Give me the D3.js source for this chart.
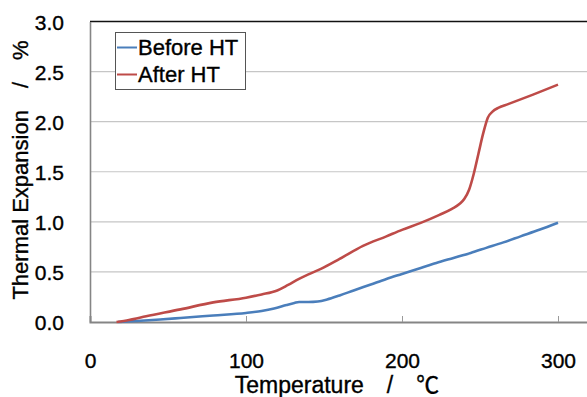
<!DOCTYPE html>
<html>
<head>
<meta charset="utf-8">
<script src="https://cdn.jsdelivr.net/npm/d3@7"></script>
<style>
  body { margin: 0; background: #fff; }
  svg text { font-family: "Liberation Sans", Arial, "Noto Sans CJK JP", sans-serif; fill: #000; stroke: #000; stroke-width: 0.35px; }
</style>
</head>
<body>
<div id="chart"></div>
<script>
// temperature (deg C) and expansion (%)
const beforeTemp = [18, 30, 45, 58, 79, 100, 110, 118, 126, 131, 134, 140, 146, 152, 160, 169, 180, 190, 200, 212, 222, 233, 244, 254, 265, 276, 288, 300];
const beforeVal  = [0.0, 0.01, 0.025, 0.04, 0.065, 0.09, 0.11, 0.135, 0.17, 0.19, 0.2, 0.2, 0.205, 0.225, 0.265, 0.315, 0.375, 0.43, 0.48, 0.54, 0.59, 0.64, 0.69, 0.74, 0.795, 0.855, 0.92, 0.99];

const afterTemp = [17, 25, 36, 58, 79, 100, 110, 120, 127, 134, 140, 148, 160, 175, 190, 200, 212, 224, 232, 237, 240, 243, 246, 249, 252, 255, 258, 262, 268, 284, 300];
const afterVal  = [0.0, 0.02, 0.057, 0.126, 0.196, 0.243, 0.275, 0.315, 0.37, 0.43, 0.475, 0.53, 0.63, 0.76, 0.855, 0.92, 0.99, 1.07, 1.13, 1.18, 1.23, 1.32, 1.48, 1.68, 1.88, 2.04, 2.1, 2.14, 2.175, 2.27, 2.37];

const xTicks = [0, 100, 200, 300];
const yTicks = [0, 0.5, 1.0, 1.5, 2.0, 2.5, 3.0];
const seriesNames = ["Before HT", "After HT"];
const seriesColors = ["#4a7ebb", "#be4b48"];

const width = 587, height = 397;
const plotLeft = 90, plotTop = 21.5, plotBottom = 322;

const svg = d3.select("#chart").append("svg")
  .attr("width", width)
  .attr("height", height);

const x = d3.scaleLinear().domain([0, 350]).range([plotLeft, plotLeft + 546]);
const y = d3.scaleLinear().domain([0, 3]).range([plotBottom, plotTop]);

// gridlines
svg.append("g")
  .selectAll("line")
  .data(yTicks.filter(d => d > 0 && d < 3))
  .enter()
  .append("line")
  .attr("x1", plotLeft).attr("x2", width)
  .attr("y1", d => y(d)).attr("y2", d => y(d))
  .attr("stroke", "#c6c6c6")
  .attr("stroke-width", 1.2);

// top border
svg.append("line")
  .attr("x1", plotLeft).attr("x2", width)
  .attr("y1", y(3)).attr("y2", y(3))
  .attr("stroke", "#111")
  .attr("stroke-width", 1.6);

// y axis
const yAxis = svg.append("g")
  .attr("transform", `translate(${plotLeft},0)`)
  .call(d3.axisLeft(y).tickValues(yTicks).tickFormat(d3.format(".1f")).tickSize(0).tickPadding(26));
yAxis.select(".domain").attr("stroke", "#858585").attr("stroke-width", 1.6);
yAxis.selectAll("text")
  .attr("font-size", 21)
  .attr("dy", "0.36em")
  .style("font-family", "'Liberation Sans', Arial, sans-serif");

// x axis
const xAxis = svg.append("g")
  .attr("transform", `translate(0,${plotBottom})`)
  .call(d3.axisBottom(x).tickValues(xTicks).tickSize(-6).tickPadding(31));
xAxis.select(".domain").attr("stroke", "#858585").attr("stroke-width", 2);
xAxis.selectAll(".tick line").attr("stroke", "#9a9a9a").attr("stroke-width", 1);
xAxis.selectAll(".tick").filter(d => d === 0).select("line").remove();
xAxis.selectAll("text")
  .attr("font-size", 21)
  .style("font-family", "'Liberation Sans', Arial, sans-serif");

// lines
const line = d3.line()
  .x(d => x(d[0]))
  .y(d => y(d[1]))
  .curve(d3.curveMonotoneX);

const series = [
  d3.zip(beforeTemp, beforeVal),
  d3.zip(afterTemp, afterVal)
];

svg.selectAll("path.series")
  .data(series)
  .enter()
  .append("path")
  .attr("class", "series")
  .attr("d", line)
  .attr("fill", "none")
  .attr("stroke", (d, i) => seriesColors[i])
  .attr("stroke-width", 2.6)
  .attr("stroke-linejoin", "round");

// axis titles
svg.append("text")
  .attr("x", 337)
  .attr("y", 393)
  .attr("text-anchor", "middle")
  .attr("font-size", 23)
  .text("Temperature\u3000/\u3000\u2103");

svg.append("text")
  .attr("transform", "translate(28,170) rotate(-90)")
  .attr("text-anchor", "middle")
  .attr("font-size", 22)
  .text("Thermal Expansion\u3000/\u3000%");

// legend
const legend = svg.append("g");
legend.append("rect")
  .attr("x", 115.5).attr("y", 32.5)
  .attr("width", 130).attr("height", 57)
  .attr("fill", "#fff")
  .attr("stroke", "#555")
  .attr("stroke-width", 1);

const items = legend.selectAll("g.item")
  .data(seriesNames)
  .enter()
  .append("g")
  .attr("class", "item")
  .attr("transform", (d, i) => `translate(117,${47.5 + i * 27})`);

items.append("line")
  .attr("x1", 0).attr("x2", 20)
  .attr("stroke", (d, i) => seriesColors[i])
  .attr("stroke-width", 2);

items.append("text")
  .attr("x", 21)
  .attr("dy", "0.36em")
  .attr("font-size", 22)
  .text(d => d);
</script>
</body>
</html>
